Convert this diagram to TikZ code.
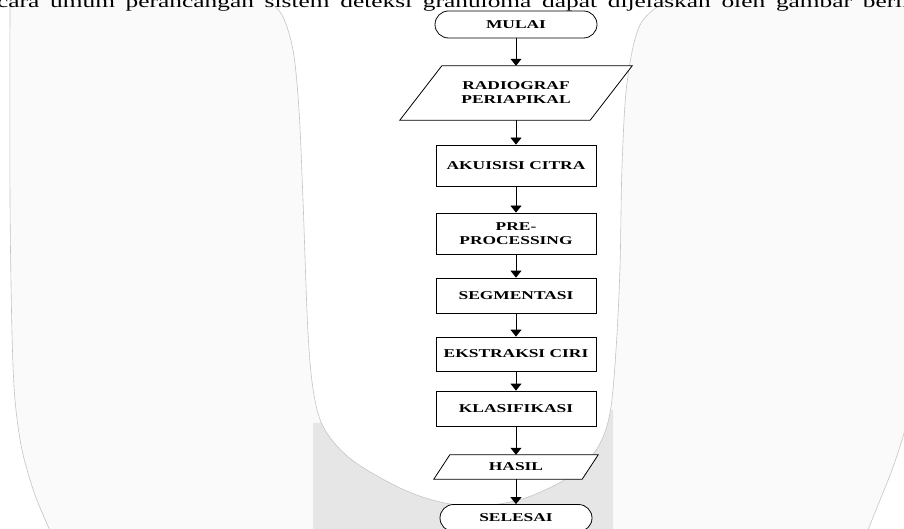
\documentclass[tikz,border=0pt]{standalone}
\usepackage{fontspec}
\usepackage{graphicx}
\newfontfamily\diagfont[FakeStretch=1.45]{Liberation Serif}
\newfontfamily\plainserif{Liberation Serif}
\usetikzlibrary{arrows.meta}
\definecolor{wmlight}{HTML}{FAFAFA}
\definecolor{wmgray}{HTML}{E6E6E6}
\definecolor{wmline}{HTML}{C4C4C4}
\pgfdeclarelayer{bg}
\pgfsetlayers{bg,main}
\begin{document}
\begin{tikzpicture}[x=1pt,y=-1pt,
  boxfont/.style={font=\diagfont\bfseries\fontsize{12}{14}\selectfont},
  proc/.style={boxfont, draw, line width=0.8pt, fill=white, minimum width=160pt, inner sep=0pt, align=center},
  term/.style={proc, rounded corners=13.5pt, minimum height=27pt},
  iobox/.style={boxfont, inner sep=0pt, align=center},
  flow/.style={line width=0.8pt, -{Triangle[width=11pt,length=7pt]}},
  wmedge/.style={wmline, line width=0.6pt}
]
\useasboundingbox (0,0) rectangle (904,529);
\clip (0,0) rectangle (904,529);
% watermark background
\begin{pgfonlayer}{bg}
\fill[wmlight] (0,0) rectangle (904,529);
\fill[white] (-5,-8) -- plot[smooth] coordinates {(10,-8) (10,200) (12,333) (15,400) (22,450) (35,495) (52,535)} -- (-5,535) -- cycle;
\fill[wmgray] (313,423) -- (613,410) -- (613,535) -- (313,535) -- cycle;
\fill[white] plot[smooth, tension=0.55] coordinates {(258,-8) (267,0) (282,15) (293,50) (299,110) (303,200) (308,333) (314,395) (325,430) (352,460) (400,488) (440,502) (477,506) (515,501) (545,490) (575,473) (598,447) (610,413) (616,350) (620,267) (622,167) (627,83) (640,25) (667,0) (680,-8)} -- cycle;
\fill[white] plot[smooth] coordinates {(866,535) (880,500) (892,470) (902,440) (912,405)} -- (912,535) -- cycle;
\draw[wmedge] plot[smooth] coordinates {(10,-8) (10,200) (12,333) (15,400) (22,450) (35,495) (52,535)};
\draw[wmedge] plot[smooth, tension=0.55] coordinates {(258,-8) (267,0) (282,15) (293,50) (299,110) (303,200) (308,333) (314,395) (325,430) (352,460) (400,488) (440,502) (477,506) (515,501) (545,490) (575,473) (598,447) (610,413) (616,350) (620,267) (622,167) (627,83) (640,25) (667,0) (680,-8)};
\draw[wmedge] plot[smooth] coordinates {(866,535) (880,500) (892,470) (902,440) (912,405)};
\end{pgfonlayer}
% intro line (cut by the page edge as in the reference)
\node[anchor=base west, inner sep=0pt] (intro) at (-28.4,7.5)
  {\scalebox{1.45}[1]{\plainserif\fontsize{17.5}{20}\selectfont\makebox[664pt][s]{Secara umum perancangan sistem deteksi granuloma dapat dijelaskan oleh gambar berikut}}};
% flowchart
\node[term, minimum width=162pt] (mulai) at (516,24.5) {MULAI};
\node[iobox, minimum width=190pt, minimum height=54pt] (radio) at (516,93) {RADIOGRAF\\PERIAPIKAL};
\node[proc, minimum height=41pt] (akuisisi) at (516,165.5) {AKUISISI CITRA};
\node[proc, minimum height=41pt] (pre) at (516,233.5) {PRE-\\PROCESSING};
\node[proc, minimum height=35pt] (seg) at (516,295.5) {SEGMENTASI};
\node[proc, minimum height=34pt] (eks) at (516,354) {EKSTRAKSI CIRI};
\node[proc, minimum height=35pt] (kla) at (516,408.5) {KLASIFIKASI};
\node[iobox, minimum width=148pt, minimum height=24pt] (hasil) at (516,467) {HASIL};
\node[term, minimum width=152pt] (selesai) at (516,518) {SELESAI};
\begin{pgfonlayer}{bg}
\draw[line width=0.8pt, fill=white] ([xshift=21pt]radio.north west) -- ([xshift=21pt]radio.north east) -- ([xshift=-21pt]radio.south east) -- ([xshift=-21pt]radio.south west) -- cycle;
\draw[line width=0.8pt, fill=white] ([xshift=8pt]hasil.north west) -- ([xshift=8pt]hasil.north east) -- ([xshift=-8pt]hasil.south east) -- ([xshift=-8pt]hasil.south west) -- cycle;
\end{pgfonlayer}
\draw[flow] (mulai.south) -- (radio.north);
\draw[flow] (radio.south) -- (akuisisi.north);
\draw[flow] (akuisisi.south) -- (pre.north);
\draw[flow] (pre.south) -- (seg.north);
\draw[flow] (seg.south) -- (eks.north);
\draw[flow] (eks.south) -- (kla.north);
\draw[flow] (kla.south) -- (hasil.north);
\draw[flow] (hasil.south) -- (selesai.north);
\end{tikzpicture}
\end{document}
